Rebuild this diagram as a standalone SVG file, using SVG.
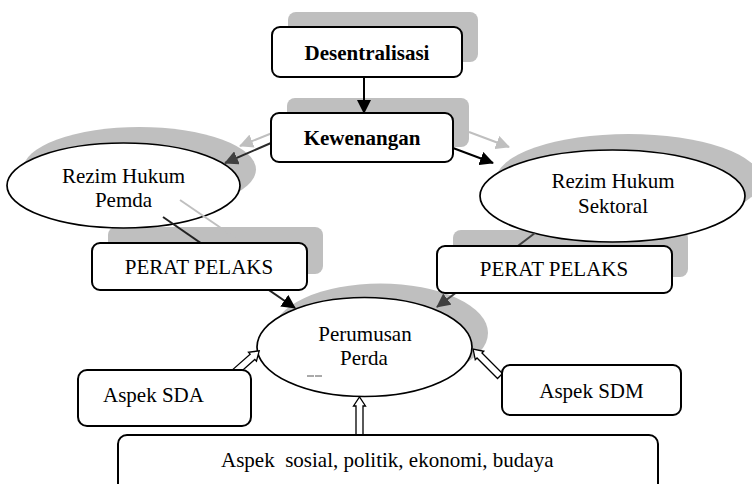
<svg xmlns="http://www.w3.org/2000/svg" width="752" height="484" viewBox="0 0 752 484">
  <style>
    .shadow { fill: #bfbfbf; stroke: none; }
    .box { fill: #ffffff; stroke: #000000; stroke-width: 2; }
    .oval { fill: #ffffff; stroke: #000000; stroke-width: 1.7; }
    .lbl { font-family: "Liberation Serif", "Times New Roman", serif; font-size: 21px; fill: #000000; text-anchor: middle; }
    .bold { font-weight: bold; }
    .start { text-anchor: start; }
    .conn { fill: none; stroke-width: 2; }
    .ghost { fill: none; stroke: #bfbfbf; stroke-width: 2; }
    .block { fill: #ffffff; stroke: #000000; stroke-width: 1.3; stroke-linejoin: miter; }
  </style>
  <defs>
    <marker id="headBlack" markerUnits="userSpaceOnUse" viewBox="0 0 14 14" refX="13" refY="7" markerWidth="14" markerHeight="14" orient="auto">
      <path d="M0,0 L14,7 L0,14 Z" fill="#000000"/>
    </marker>
    <marker id="headDark" markerUnits="userSpaceOnUse" viewBox="0 0 14 14" refX="13" refY="7" markerWidth="14" markerHeight="14" orient="auto">
      <path d="M0,0 L14,7 L0,14 Z" fill="#404040"/>
    </marker>
    <marker id="headGhost" markerUnits="userSpaceOnUse" viewBox="0 0 14 14" refX="13" refY="7" markerWidth="14" markerHeight="14" orient="auto">
      <path d="M0,0 L14,7 L0,14 Z" fill="#bfbfbf"/>
    </marker>
  </defs>

  <!-- drop shadows behind the nodes -->
  <g id="shadows">
    <rect class="shadow" x="288" y="12" width="190" height="50" rx="8"/>
    <rect class="shadow" x="287" y="98" width="182" height="49" rx="8"/>
    <ellipse class="shadow" cx="139.5" cy="169.5" rx="116.5" ry="42.5"/>
    <ellipse class="shadow" cx="628.5" cy="180" rx="132.5" ry="46"/>
    <rect class="shadow" x="108" y="227" width="215" height="47" rx="8"/>
    <rect class="shadow" x="453" y="230" width="235" height="47" rx="8"/>
    <ellipse class="shadow" cx="380.5" cy="333" rx="107.5" ry="49.5"/>
  </g>

  <!-- oval nodes -->
  <g id="rezim-pemda">
    <ellipse class="oval" cx="123.5" cy="185.5" rx="116.5" ry="42.5"/>
    <text class="lbl" x="123.5" y="183">Rezim Hukum</text>
    <text class="lbl" x="123.5" y="207">Pemda</text>
  </g>
  <g id="rezim-sektoral">
    <ellipse class="oval" cx="612.5" cy="196" rx="132.5" ry="46"/>
    <text class="lbl" x="613" y="188">Rezim Hukum</text>
    <text class="lbl" x="613" y="213">Sektoral</text>
  </g>
  <g id="perumusan-perda">
    <ellipse class="oval" cx="364.5" cy="347" rx="107.5" ry="49.5"/>
    <text class="lbl" x="365" y="341">Perumusan</text>
    <text class="lbl" x="364" y="365">Perda</text>
    <line x1="307" y1="376" x2="314" y2="376" stroke="#555555" stroke-width="1"/>
    <line x1="315" y1="376" x2="322" y2="376" stroke="#555555" stroke-width="1"/>
  </g>

  <!-- connectors -->
  <g id="connectors">
    <line class="ghost" x1="287" y1="127" x2="240" y2="146" marker-end="url(#headGhost)"/>
    <line class="ghost" x1="469" y1="132" x2="509" y2="147" marker-end="url(#headGhost)"/>
    <line class="ghost" x1="180" y1="200" x2="240" y2="241"/>

    <line class="conn" stroke="#000000" x1="364" y1="77" x2="364" y2="113" marker-end="url(#headBlack)"/>
    <line class="conn" stroke="#2a2a2a" x1="271" y1="143" x2="225" y2="163" marker-end="url(#headDark)"/>
    <line class="conn" stroke="#000000" x1="453" y1="148" x2="493" y2="163" marker-end="url(#headBlack)"/>
    <line class="conn" stroke="#222222" x1="163" y1="217" x2="295" y2="308" marker-end="url(#headBlack)"/>
    <line class="conn" stroke="#404040" x1="535" y1="233" x2="437" y2="307" marker-end="url(#headDark)"/>

    <!-- hollow block arrows from the aspect boxes -->
    <path class="block" transform="translate(233,374) rotate(-41.5)" d="M0,-3.5 H26 V-6 L35,0 L26,6 V3.5 H0 Z"/>
    <path class="block" transform="translate(500,376) rotate(-135)" d="M0,-3.5 H29 V-6 L38,0 L29,6 V3.5 H0 Z"/>
    <path class="block" transform="translate(359.5,435) rotate(-90)" d="M0,-3.5 H29 V-6 L38,0 L29,6 V3.5 H0 Z"/>
  </g>

  <!-- box nodes -->
  <g id="desentralisasi">
    <rect class="box" x="272" y="27" width="190" height="50" rx="8"/>
    <text class="lbl bold" x="367" y="60">Desentralisasi</text>
  </g>
  <g id="kewenangan">
    <rect class="box" x="271" y="113" width="182" height="49" rx="8"/>
    <text class="lbl bold" x="362" y="145">Kewenangan</text>
  </g>
  <g id="perat-pelaks-pemda">
    <rect class="box" x="92" y="243" width="215" height="47" rx="8"/>
    <text class="lbl" x="199" y="274">PERAT PELAKS</text>
  </g>
  <g id="perat-pelaks-sektoral">
    <rect class="box" x="437" y="246" width="235" height="47" rx="8"/>
    <text class="lbl" x="554" y="276">PERAT PELAKS</text>
  </g>
  <g id="aspek-sda">
    <rect class="box" x="78" y="370" width="173" height="56" rx="9"/>
    <text class="lbl start" x="103" y="402">Aspek SDA</text>
  </g>
  <g id="aspek-sdm">
    <rect class="box" x="502" y="365" width="179" height="50" rx="8"/>
    <text class="lbl" x="591.5" y="398">Aspek SDM</text>
  </g>
  <g id="aspek-sosial">
    <rect class="box" x="118" y="435" width="540" height="62" rx="9"/>
    <text class="lbl start" x="221" y="467" style="white-space:pre">Aspek  sosial, politik, ekonomi, budaya</text>
  </g>
</svg>
